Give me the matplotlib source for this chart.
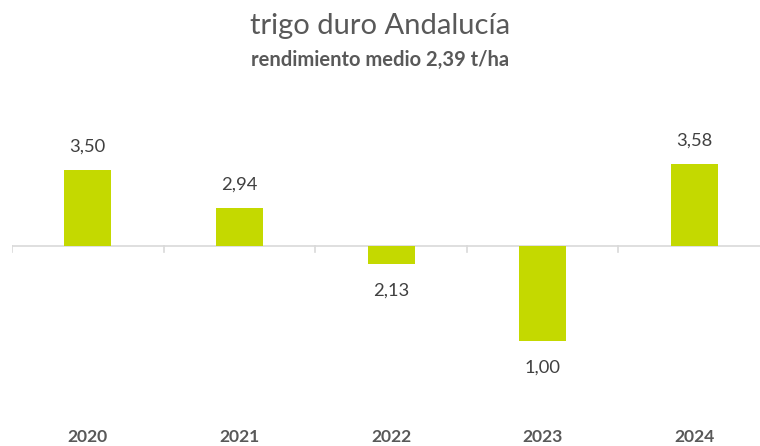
import numpy as np
import matplotlib.pyplot as plt

# rendimiento del trigo duro en Andalucía, barras como desviación de la media
years = ['2020', '2021', '2022', '2023', '2024']
yields = [3.50, 2.94, 2.13, 1.00, 3.58]
media = 2.39

plt.rcParams['font.family'] = ['Lato', 'DejaVu Sans']

W, H = 760, 446
fig = plt.figure(figsize=(W / 100, H / 100), dpi=100)

# eje: cero en y=246 px, categorías de 151.5 px empezando en x=12
px_unit = 68.5
top_px, bot_px = 100, 420
ax = fig.add_axes([12 / W, 1 - bot_px / H, 1 - 12 / W, (bot_px - top_px) / H])

x = np.arange(len(years))
dev = np.array(yields) - media
ax.bar(x, dev, width=0.31, color='#C4D900', zorder=2)

ax.set_xlim(-0.5, 4.5 - 10 / 151.5)
ax.set_ylim(-(bot_px - 246) / px_unit, (246 - top_px) / px_unit)

for s in ax.spines.values():
    s.set_visible(False)
ax.axhline(0, color='#d9d9d9', lw=1.2, zorder=1)
for b in np.arange(-0.5, 4.5, 1.0):
    ax.plot([b, b], [0, -6 / px_unit], color='#d9d9d9', lw=1.2, zorder=1)
ax.set_xticks([])
ax.set_yticks([])

for xi, d, v in zip(x, dev, yields):
    off = 17 if d >= 0 else -19
    ax.annotate(f'{v:.2f}'.replace('.', ','), (xi, d), xytext=(0, off),
                textcoords='offset points', ha='center', va='center',
                fontsize=13.2, color='#404040')

trans = ax.get_xaxis_transform()
for xi, yr in zip(x, years):
    ax.text(xi, 1 - (437 - top_px) / (bot_px - top_px), yr, transform=trans,
            ha='center', va='center', fontsize=12.6, fontweight='bold', color='#595959')

fig.text(0.5, 1 - 26 / H, 'trigo duro Andalucía', ha='center', va='center',
         fontsize=21, color='#595959')
fig.text(0.5, 1 - 60 / H, 'rendimiento medio 2,39 t/ha', ha='center', va='center',
         fontsize=14.5, fontweight='bold', color='#595959')

fig.savefig('out.png', dpi=100)
